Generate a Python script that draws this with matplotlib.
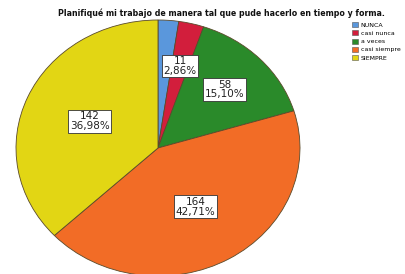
import matplotlib
matplotlib.use("Agg")
import matplotlib.pyplot as plt
import numpy as np
from matplotlib.patches import Patch

categories = ["NUNCA", "casi nunca", "a veces", "casi siempre", "SIEMPRE"]
values = [9, 11, 58, 164, 142]
show_label = [False, True, True, True, True]
colors = ["#5a97dc", "#d21e3c", "#2a8a2a", "#f26c26", "#e2d614"]
title = "Planifiqué mi trabajo de manera tal que pude hacerlo en tiempo y forma."

fig = plt.figure(figsize=(4.06, 2.74), dpi=100)
ax = fig.add_axes([16/406, 1 - 276/274, 284/406, 256/274])
wedges, _ = ax.pie(values, colors=colors, startangle=90, counterclock=False,
                   radius=1, wedgeprops=dict(edgecolor="#5a4a2a", linewidth=0.6))
ax.set_aspect("auto")
ax.set_xlim(-1, 1)
ax.set_ylim(-1, 1)
ax.axis("off")

total = sum(values)
dists = [0.66, 0.66, 0.655, 0.53, 0.525]
for w, v, show, d in zip(wedges, values, show_label, dists):
    if not show:
        continue
    ang = np.deg2rad((w.theta1 + w.theta2) / 2)
    pct = f"{100 * v / total:.2f}".replace(".", ",") + "%"
    ax.text(d * np.cos(ang), d * np.sin(ang), f"{v}\n{pct}", ha="center", va="center",
            fontsize=7.5, color="#222222", linespacing=0.95,
            bbox=dict(boxstyle="square,pad=0.15", fc="white", ec="#333333", lw=0.6))

fig.text(221/406, 1 - 13/274, title, ha="center", va="center", fontsize=5.7,
         fontweight="bold", color="#111111")

handles = [Patch(facecolor=c, edgecolor="#555555", linewidth=0.4) for c in colors]
fig.legend(handles, categories, loc="upper left", bbox_to_anchor=(352/406, 1 - 22/274),
           frameon=False, fontsize=4.5, handlelength=1.0, handleheight=0.9,
           handletextpad=0.4, labelspacing=0.4, borderaxespad=0, borderpad=0)

fig.savefig("out.png", dpi=100)
